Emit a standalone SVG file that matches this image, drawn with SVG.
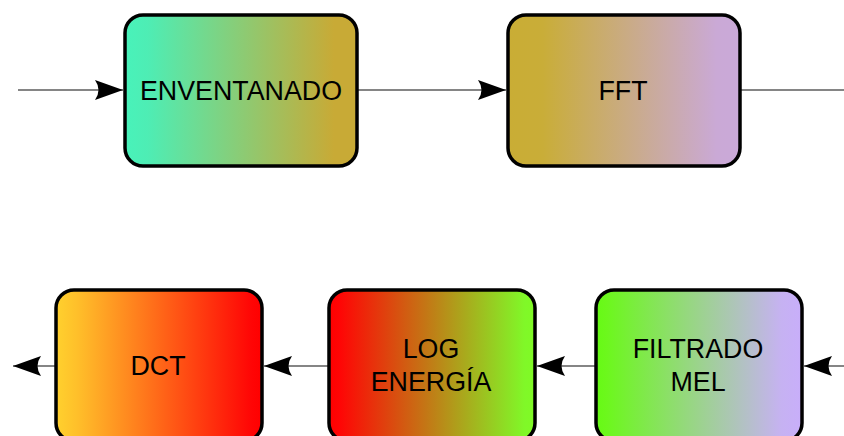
<svg xmlns="http://www.w3.org/2000/svg" width="844" height="436" viewBox="0 0 844 436">
<defs>
<linearGradient id="g1" x1="0" y1="0" x2="1" y2="0"><stop offset="0" stop-color="#48F2BA"/><stop offset="0.1" stop-color="#4EEDB4"/><stop offset="0.9" stop-color="#C8AA36"/><stop offset="1" stop-color="#C8AA36"/></linearGradient>
<linearGradient id="g2" x1="0" y1="0" x2="1" y2="0"><stop offset="0" stop-color="#C9AD35"/><stop offset="0.15" stop-color="#C9AD38"/><stop offset="0.9" stop-color="#CAA9D6"/><stop offset="1" stop-color="#CAA9D8"/></linearGradient>
<linearGradient id="g3" x1="0" y1="0" x2="1" y2="0"><stop offset="0" stop-color="#FFD12E"/><stop offset="0.1" stop-color="#FFC02A"/><stop offset="0.95" stop-color="#FF0505"/><stop offset="1" stop-color="#FF0000"/></linearGradient>
<linearGradient id="g4" x1="0" y1="0" x2="1" y2="0"><stop offset="0" stop-color="#FF0000"/><stop offset="0.05" stop-color="#FF0505"/><stop offset="0.95" stop-color="#80F828"/><stop offset="1" stop-color="#80FA25"/></linearGradient>
<linearGradient id="g5" x1="0" y1="0" x2="1" y2="0"><stop offset="0" stop-color="#66FA14"/><stop offset="0.05" stop-color="#6CF81C"/><stop offset="0.9" stop-color="#C6B2F2"/><stop offset="1" stop-color="#C8AEFA"/></linearGradient>
<marker id="arr" viewBox="0 0 28 20" refX="28" refY="10" markerWidth="28" markerHeight="20" markerUnits="userSpaceOnUse" orient="auto">
<path d="M28,10 L0,0 Q7,10 0,20 Z" fill="#000"/>
</marker>
<style>
.box{stroke:#000;stroke-width:3.5}
.lbl{font-family:"Liberation Sans",Arial,sans-serif;font-size:26.8px;fill:#000;text-anchor:middle}
.edge{stroke:#858585;stroke-width:2.2;fill:none}
</style>
</defs>
<g id="connectors">
<line class="edge" x1="18" y1="90" x2="123" y2="90" marker-end="url(#arr)"/>
<line class="edge" x1="357" y1="90" x2="506" y2="90" marker-end="url(#arr)"/>
<line class="edge" x1="740" y1="90" x2="844" y2="90"/>
<line class="edge" x1="844" y1="366" x2="804" y2="366" marker-end="url(#arr)"/>
<line class="edge" x1="596" y1="366" x2="537" y2="366" marker-end="url(#arr)"/>
<line class="edge" x1="328" y1="366" x2="264" y2="366" marker-end="url(#arr)"/>
<line class="edge" x1="55" y1="366" x2="13" y2="366" marker-end="url(#arr)"/>
</g>
<g id="enventanado">
<rect class="box" x="125" y="15" width="232" height="151" rx="18" fill="url(#g1)"/>
<text class="lbl" x="241" y="100">ENVENTANADO</text>
</g>
<g id="fft">
<rect class="box" x="508" y="15" width="232" height="151" rx="18" fill="url(#g2)"/>
<text class="lbl" x="623" y="100">FFT</text>
</g>
<g id="filtrado-mel">
<rect class="box" x="596" y="290" width="206" height="151" rx="18" fill="url(#g5)"/>
<text class="lbl" x="698" y="358">FILTRADO</text>
<text class="lbl" x="698" y="391">MEL</text>
</g>
<g id="log-energia">
<rect class="box" x="329" y="290" width="206" height="151" rx="18" fill="url(#g4)"/>
<text class="lbl" x="431" y="358">LOG</text>
<text class="lbl" x="431" y="391">ENERGÍA</text>
</g>
<g id="dct">
<rect class="box" x="56" y="290" width="206" height="151" rx="18" fill="url(#g3)"/>
<text class="lbl" x="158" y="375">DCT</text>
</g>
</svg>
